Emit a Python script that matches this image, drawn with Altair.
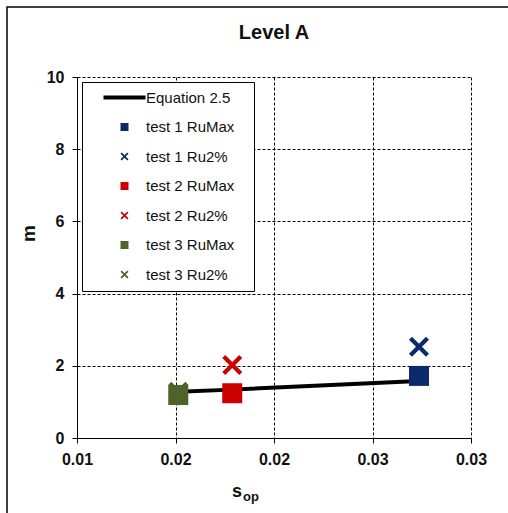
import altair as alt
import pandas as pd

# --- data -------------------------------------------------------------
tests = ["test 1", "test 2", "test 3"]
s_op = [0.02736, 0.01788, 0.01514]
m_rumax = [1.72, 1.24, 1.19]
m_ru2 = [2.53, 2.02, 1.28]

eq_s = [0.01514, 0.01788, 0.02736]
eq_m = [1.28, 1.34, 1.58]

x_ticks = [0.01, 0.015, 0.02, 0.025, 0.03]
x_tick_labels = ["0.01", "0.02", "0.02", "0.03", "0.03"]
y_ticks = [0, 2, 4, 6, 8, 10]

series = ["Equation 2.5", "test 1 RuMax", "test 1 Ru2%", "test 2 RuMax",
          "test 2 Ru2%", "test 3 RuMax", "test 3 Ru2%"]
colors = ["#000000", "#0b2a6b", "#0b2a6b", "#cc0000", "#cc0000", "#4f6228", "#4f6228"]

# symbol paths (unit box), shared by legend and plot
LINE = "M-4.2,-0.4L4.2,-0.4L4.2,0.4L-4.2,0.4Z"
SQUARE = "M-0.8,-0.8L0.8,-0.8L0.8,0.8L-0.8,0.8Z"
CROSS = ("M-0.56,-0.8L0,-0.24L0.56,-0.8L0.8,-0.56L0.24,0L0.8,0.56L0.56,0.8"
         "L0,0.24L-0.56,0.8L-0.8,0.56L-0.24,0L-0.8,-0.56Z")
shapes = [LINE, SQUARE, CROSS, SQUARE, CROSS, SQUARE, CROSS]

rows = []
for t, s, a, b in zip(tests, s_op, m_rumax, m_ru2):
    rows.append({"s": s, "m": a, "series": f"{t} RuMax"})
    rows.append({"s": s, "m": b, "series": f"{t} Ru2%"})
points = pd.DataFrame(rows)
eq = pd.DataFrame({"s": eq_s, "m": eq_m})

label_expr = ("[" + ",".join(f"'{l}'" for l in x_tick_labels) +
              "][round((datum.value - 0.01) / 0.005)]")

x_enc = alt.X("s:Q", scale=alt.Scale(domain=[0.01, 0.03], nice=False),
              axis=alt.Axis(values=x_ticks, labelExpr=label_expr, title=None,
                            labelPadding=8, labelFlush=False))
y_enc = alt.Y("m:Q", scale=alt.Scale(domain=[0, 10], nice=False),
              axis=alt.Axis(values=y_ticks, title="m", titleFontSize=19,
                            titleX=-39, titleY=156, titleAngle=-90,
                            labelPadding=8))

frame = alt.Chart(pd.DataFrame({"a": [0]})).mark_rect(
    filled=False, stroke="black", strokeWidth=1.5, clip=False
).encode(x=alt.value(-70), x2=alt.value(520), y=alt.value(-70), y2=alt.value(520))

line = alt.Chart(eq).mark_line(color="black", strokeWidth=4).encode(x=x_enc, y=y_enc)

pts = alt.Chart(points).mark_point(filled=True, size=625, opacity=1, strokeWidth=0).encode(
    x=x_enc, y=y_enc,
    color=alt.Color("series:N", scale=alt.Scale(domain=series, range=colors),
                    legend=alt.Legend(title=" ", titleOrient="right", titlePadding=12,
                                      titleFontSize=2, orient="none",
                                      legendX=5, legendY=5)),
    shape=alt.Shape("series:N", scale=alt.Scale(domain=series, range=shapes)),
    order=alt.Order("m:Q"),
)

title = alt.Chart(pd.DataFrame({"t": ["Level A"]})).mark_text(
    font="Liberation Sans", fontWeight="bold", fontSize=20, align="center",
    baseline="middle", color="#111"
).encode(text="t:N", x=alt.value(197), y=alt.value(-44))

sub_s = alt.Chart(pd.DataFrame({"t": ["s"]})).mark_text(
    font="Liberation Sans", fontWeight="bold", fontSize=18, align="center",
    baseline="alphabetic", color="#111"
).encode(text="t:N", x=alt.value(160), y=alt.value(420))
sub_op = alt.Chart(pd.DataFrame({"t": ["op"]})).mark_text(
    font="Liberation Sans", fontWeight="bold", fontSize=13, align="left",
    baseline="alphabetic", color="#111"
).encode(text="t:N", x=alt.value(166), y=alt.value(424))

chart = alt.layer(frame, line, pts, title, sub_s, sub_op).properties(
    width=394, height=361,
    autosize=alt.AutoSizeParams(type="none"),
    padding={"left": 77, "top": 77, "right": 37, "bottom": 75},
    background="white",
).configure_view(stroke=None).configure_axis(
    labelFont="Liberation Sans", labelFontSize=16, labelFontWeight="bold",
    labelColor="#111", titleFont="Liberation Sans", titleFontWeight="bold",
    titleColor="#111", domainColor="black", domainWidth=1, tickColor="black",
    tickSize=5, grid=True, gridColor="black", gridDash=[3, 2], gridOpacity=1,
    gridWidth=1,
).configure_legend(
    strokeColor="black", strokeWidth=1, fillColor="white", padding=8,
    symbolSize=100, symbolStrokeWidth=0, symbolOffset=27, labelOffset=14,
    rowPadding=13.5, labelFont="Liberation Sans", labelFontSize=15,
    labelColor="#111", cornerRadius=0,
)

chart.save("out.html", embed_options={"renderer": "svg", "actions": False})
